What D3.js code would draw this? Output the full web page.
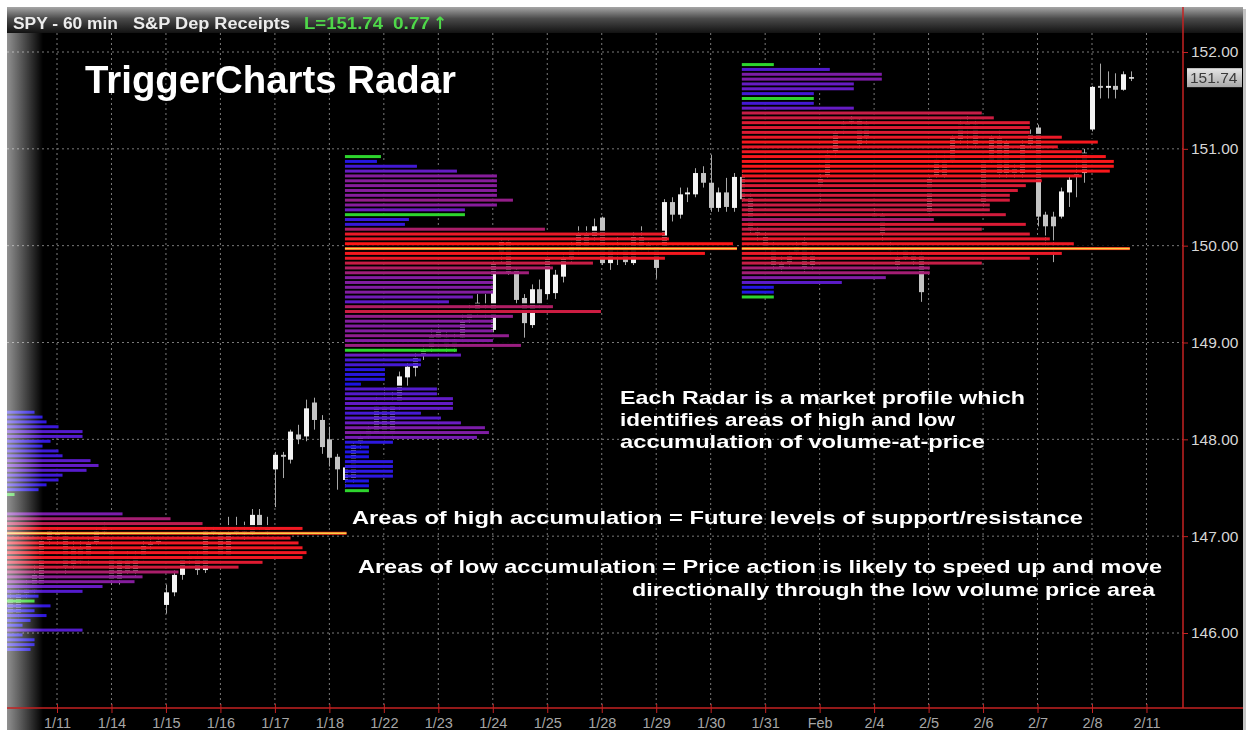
<!DOCTYPE html>
<html>
<head>
<meta charset="utf-8">
<script src="https://cdn.jsdelivr.net/npm/d3@7"></script>
<style>
  body { margin: 0; background: #fff; }
  svg { display: block; }
  .axis text { font-family: "Liberation Sans", Arial, sans-serif; }
</style>
</head>
<body>
<svg id="chart" width="1253" height="730"></svg>
<script>
// ---- data ----
// trading days shown on the time axis (first bar of each day gets a tick)
var dayLabels = ["1/11", "1/14", "1/15", "1/16", "1/17", "1/18", "1/22", "1/23", "1/24", "1/25",
  "1/28", "1/29", "1/30", "1/31", "Feb", "2/4", "2/5", "2/6", "2/7", "2/8", "2/11"];
var barsPerDay = 7;

// 60 min bars [open, high, low, close], 7 per day, starting with 1/10
var ohlc = [
  // 1/10
  [146.30, 146.40, 146.15, 146.35], [146.35, 146.45, 146.10, 146.20], [146.20, 146.50, 146.15, 146.40],
  [146.40, 146.55, 146.35, 146.45], [146.45, 146.70, 146.40, 146.60], [146.50, 147.00, 146.45, 146.95],
  [146.95, 147.10, 146.90, 147.05],
  // 1/11
  [147.00, 147.10, 146.90, 147.03], [147.00, 147.05, 146.60, 146.68], [146.70, 146.95, 146.65, 146.88],
  [146.88, 146.95, 146.70, 146.75], [146.78, 146.98, 146.70, 146.94], [146.94, 147.10, 146.90, 147.05],
  [147.05, 147.15, 147.00, 147.10],
  // 1/14
  [146.86, 146.95, 146.50, 146.55], [146.55, 146.80, 146.50, 146.75], [146.75, 146.85, 146.60, 146.62],
  [146.62, 146.85, 146.58, 146.80], [146.80, 146.95, 146.75, 146.90], [146.90, 147.00, 146.85, 146.93],
  [146.93, 146.98, 146.90, 146.95],
  // 1/15
  [146.29, 146.50, 146.20, 146.42], [146.42, 146.65, 146.38, 146.60], [146.60, 146.80, 146.55, 146.76],
  [146.76, 146.85, 146.70, 146.80], [146.80, 146.85, 146.60, 146.65], [146.65, 147.10, 146.62, 147.05],
  [147.05, 147.10, 147.00, 147.03],
  // 1/16
  [147.03, 147.05, 146.75, 146.80], [146.80, 147.20, 146.78, 147.03], [147.03, 147.20, 147.00, 147.05],
  [147.05, 147.15, 146.95, 147.02], [147.02, 147.28, 147.00, 147.22], [147.22, 147.28, 147.05, 147.08],
  [147.08, 147.20, 147.00, 147.05],
  // 1/17
  [147.69, 147.87, 147.30, 147.84], [147.84, 147.87, 147.60, 147.82], [147.79, 148.10, 147.75, 148.08],
  [148.05, 148.15, 147.95, 148.00], [148.03, 148.41, 147.98, 148.32], [148.38, 148.43, 148.10, 148.20],
  [148.20, 148.25, 147.85, 147.92],
  // 1/18
  [148.00, 148.13, 147.72, 147.81], [147.82, 147.85, 147.48, 147.69], [147.58, 147.75, 147.50, 147.71],
  [147.60, 147.97, 147.55, 147.94], [147.96, 148.08, 147.90, 148.03], [148.04, 148.15, 148.00, 148.10],
  [148.07, 148.45, 148.05, 148.34],
  // 1/22
  [148.34, 148.55, 147.98, 148.05], [148.05, 148.50, 148.00, 148.38], [148.38, 148.70, 148.30, 148.65],
  [148.64, 148.80, 148.55, 148.75], [148.74, 148.90, 148.65, 148.85], [148.88, 148.98, 148.82, 148.93],
  [148.95, 149.15, 148.90, 149.06],
  // 1/23
  [149.05, 149.20, 148.95, 149.13], [149.05, 149.12, 148.90, 148.96], [148.96, 149.10, 148.90, 149.03],
  [149.05, 149.30, 149.00, 149.22], [149.24, 149.40, 149.20, 149.32], [149.32, 149.50, 149.28, 149.41],
  [149.38, 149.50, 149.25, 149.36],
  // 1/24
  [149.13, 149.85, 149.10, 149.83], [149.93, 150.08, 149.83, 150.04], [150.04, 150.06, 149.70, 149.73],
  [149.75, 149.78, 149.40, 149.44], [149.46, 149.50, 149.05, 149.20], [149.18, 149.60, 149.15, 149.55],
  [149.55, 149.65, 149.35, 149.40],
  // 1/25
  [149.50, 149.95, 149.45, 149.88], [149.51, 149.75, 149.45, 149.70], [149.68, 149.92, 149.62, 149.88],
  [149.86, 150.05, 149.82, 149.99], [149.96, 150.20, 149.90, 150.13], [150.13, 150.20, 149.95, 149.98],
  [150.09, 150.28, 150.05, 150.20],
  // 1/28
  [150.29, 150.30, 149.80, 149.82], [149.82, 150.00, 149.75, 149.99], [149.99, 150.10, 149.80, 149.97],
  [149.97, 150.02, 149.80, 149.83], [149.82, 150.15, 149.80, 150.10], [150.10, 150.20, 149.95, 149.98],
  [149.98, 150.05, 149.92, 150.02],
  // 1/29
  [149.99, 150.02, 149.66, 149.77], [149.99, 150.48, 149.97, 150.45], [150.45, 150.50, 150.25, 150.32],
  [150.32, 150.60, 150.28, 150.53], [150.53, 150.60, 150.45, 150.55], [150.53, 150.80, 150.50, 150.75],
  [150.75, 150.82, 150.60, 150.65],
  // 1/30
  [150.65, 150.94, 150.35, 150.39], [150.39, 150.60, 150.35, 150.55], [150.55, 150.70, 150.35, 150.40],
  [150.39, 150.75, 150.35, 150.71], [150.71, 150.78, 150.45, 150.48], [150.50, 150.55, 150.12, 150.16],
  [150.14, 150.20, 150.05, 150.11],
  // 1/31
  [150.10, 150.15, 149.92, 149.96], [149.98, 150.05, 149.75, 149.80], [149.82, 149.90, 149.72, 149.78],
  [149.83, 149.95, 149.78, 149.90], [149.94, 150.05, 149.90, 149.99], [150.04, 150.10, 149.72, 149.78],
  [149.80, 149.95, 149.75, 149.90],
  // Feb 1
  [150.63, 150.75, 150.45, 150.70], [150.73, 151.00, 150.70, 150.94], [150.96, 151.20, 150.90, 151.17],
  [151.20, 151.30, 151.15, 151.25], [151.28, 151.35, 151.20, 151.30], [151.30, 151.32, 151.00, 151.04],
  [151.11, 151.30, 151.05, 151.25],
  // 2/4
  [150.33, 150.40, 150.25, 150.30], [150.32, 150.35, 150.05, 150.11], [149.98, 150.05, 149.90, 149.95],
  [149.88, 149.95, 149.75, 149.80], [149.95, 150.00, 149.85, 149.88], [149.90, 149.95, 149.80, 149.84],
  [149.90, 149.95, 149.42, 149.52],
  // 2/5
  [150.35, 150.72, 150.30, 150.70], [150.73, 150.95, 150.70, 150.89], [150.89, 150.95, 150.70, 150.73],
  [150.87, 151.15, 150.85, 151.11], [151.10, 151.30, 151.05, 151.25], [151.27, 151.35, 151.00, 151.23],
  [151.25, 151.30, 151.00, 151.04],
  // 2/6
  [150.87, 150.90, 150.40, 150.45], [150.87, 151.15, 150.85, 151.11], [151.11, 151.20, 150.70, 150.75],
  [150.75, 151.10, 150.70, 151.07], [150.80, 150.85, 150.70, 150.75], [150.75, 151.10, 150.70, 151.04],
  [151.04, 151.20, 151.00, 151.15],
  // 2/7
  [151.22, 151.25, 150.20, 150.30], [150.32, 150.35, 149.98, 150.20], [150.30, 150.35, 149.83, 150.20],
  [150.30, 150.60, 150.28, 150.56], [150.55, 150.72, 150.40, 150.68], [150.75, 150.90, 150.50, 150.73],
  [150.75, 151.00, 150.65, 150.96],
  // 2/8
  [151.20, 151.65, 151.18, 151.64], [151.65, 151.88, 151.52, 151.63], [151.63, 151.80, 151.52, 151.65],
  [151.65, 151.78, 151.52, 151.61], [151.61, 151.80, 151.60, 151.77], [151.74, 151.80, 151.70, 151.74]
];

var priceTicks = [146, 147, 148, 149, 150, 151, 152];
var lastPrice = 151.74;
var netChange = 0.77;

// volume-at-price profiles ("Radar"), rows every 5 cents from the low upward
var rowStep = 0.05;
var radarStartBars = [0, 44, 95];
var radarLows = [145.83, 147.47, 149.47];
var radar1Volumes = [7, 8, 8, 5, 20, 5, 7, 11, 8, 12, 8, 9, 20, 25, 33, 35, 44, 59, 65, 75, 76, 75, 74, 72, 86,
  75, 50, 42, 30, 0, 0, 0, 3, 9, 11, 14, 15, 21, 24, 22, 15, 14, 10, 12, 20, 20, 14, 11, 10, 8];
var radar2Volumes = [6, 6, 6, 12, 12, 12, 12, 6, 6, 6, 12, 33, 36, 35, 29, 24, 19, 27, 27, 27, 23, 23, 4, 10, 10,
  10, 19, 19, 29, 28, 44, 37, 41, 37, 37, 37, 42, 64, 52, 26, 32, 37, 37, 37, 37, 46, 52, 62, 80, 90, 98, 97, 81, 80,
  50, 15, 16, 30, 30, 38, 42, 38, 38, 38, 38, 38, 28, 18, 8, 9];
var radar3Volumes = [8, 8, 8, 25, 36, 47, 47, 60, 72, 80, 97, 83, 77, 72, 60, 71, 48, 66, 62, 62, 67, 67, 69, 71,
  75, 85, 92, 93, 93, 91, 85, 79, 89, 80, 72, 72, 72, 63, 60, 28, 18, 18, 18, 28, 28, 35, 35, 22, 8];
// rows marked in green on each radar
var radarGreenPrices = [[146.33, 147.43], [147.47, 148.92, 150.32, 150.92], [149.47, 151.52, 151.87]];

var noteLines = [
  "Each Radar is a market profile which",
  "identifies areas of high and low",
  "accumulation of volume-at-price"
];
var highNote = "Areas of high accumulation = Future levels of support/resistance";
var lowNote = ["Areas of low accumulation = Price action is likely to speed up and move",
  "directionally through the low volume price area"];

// ---- layout ----
var svg = d3.select("#chart");
var panel = { left: 7, right: 1243, top: 7, bottom: 730 };
var plot = { left: 7, right: 1183, top: 33, bottom: 708 };

var x = d3.scaleLinear().domain([barsPerDay, barsPerDay * 20]).range([57, 1092]);
var y = d3.scaleLinear().domain([146, 152]).range([633, 52]);
var vol = d3.scaleLinear().domain([0, 100]).range([0, 400]);
var heat = d3.scaleLinear()
  .domain([0, 0.12, 0.3, 0.45, 0.6, 0.8, 1])
  .range(["#1212e6", "#2c18de", "#6a1cc2", "#9a1e80", "#c21e4a", "#e81a2a", "#ff1616"]);

var defs = svg.append("defs");
defs.append("clipPath").attr("id", "plotClip").append("rect")
  .attr("x", plot.left).attr("y", plot.top)
  .attr("width", plot.right - plot.left).attr("height", plot.bottom - plot.top);

var hdr = defs.append("linearGradient").attr("id", "hdrGrad").attr("x1", 0).attr("y1", 0).attr("x2", 0).attr("y2", 1);
hdr.append("stop").attr("offset", "0%").attr("stop-color", "#a6a6a6");
hdr.append("stop").attr("offset", "45%").attr("stop-color", "#4a4a4a");
hdr.append("stop").attr("offset", "100%").attr("stop-color", "#121212");

var side = defs.append("linearGradient").attr("id", "sideGrad").attr("x1", 0).attr("y1", 0).attr("x2", 1).attr("y2", 0);
side.append("stop").attr("offset", "0%").attr("stop-color", "#909090");
side.append("stop").attr("offset", "35%").attr("stop-color", "#5e5e5e");
side.append("stop").attr("offset", "100%").attr("stop-color", "#000");

var tag = defs.append("linearGradient").attr("id", "tagGrad").attr("x1", 0).attr("y1", 0).attr("x2", 0).attr("y2", 1);
tag.append("stop").attr("offset", "0%").attr("stop-color", "#e6e6e6");
tag.append("stop").attr("offset", "100%").attr("stop-color", "#a8a8a8");

// panel with a soft shadow on the right
svg.append("rect").attr("x", panel.left + 3).attr("y", panel.top + 2)
  .attr("width", panel.right - panel.left).attr("height", panel.bottom - panel.top)
  .attr("fill", "#c4c4c4");
svg.append("rect").attr("x", panel.left).attr("y", panel.top)
  .attr("width", panel.right - panel.left).attr("height", panel.bottom - panel.top)
  .attr("fill", "#000");

// grid
var grid = svg.append("g").attr("clip-path", "url(#plotClip)");
var dayTicks = dayLabels.map(function (d, i) { return barsPerDay * (i + 1); });
grid.selectAll(".vgrid").data(dayTicks).enter().append("line")
  .attr("x1", function (d) { return x(d); }).attr("x2", function (d) { return x(d); })
  .attr("y1", plot.top).attr("y2", plot.bottom)
  .attr("stroke", "#7a7a7a").attr("stroke-dasharray", "2,3");
grid.selectAll(".hgrid").data(priceTicks).enter().append("line")
  .attr("x1", plot.left).attr("x2", plot.right)
  .attr("y1", function (d) { return y(d); }).attr("y2", function (d) { return y(d); })
  .attr("stroke", "#7a7a7a").attr("stroke-dasharray", "2,3");

// candles
var bars = ohlc.map(function (d, i) { return { i: i, o: d[0], h: d[1], l: d[2], c: d[3] }; });
var candles = svg.append("g").attr("clip-path", "url(#plotClip)");
candles.selectAll(".wick").data(bars).enter().append("line")
  .attr("x1", function (d) { return Math.round(x(d.i)) + 0.5; })
  .attr("x2", function (d) { return Math.round(x(d.i)) + 0.5; })
  .attr("y1", function (d) { return y(d.h); }).attr("y2", function (d) { return y(d.l); })
  .attr("stroke", "#a8a8a8").attr("stroke-width", 1);
candles.selectAll(".body").data(bars).enter().append("rect")
  .attr("x", function (d) { return Math.round(x(d.i)) - 2; })
  .attr("width", 5)
  .attr("y", function (d) { return y(Math.max(d.o, d.c)); })
  .attr("height", function (d) { return Math.max(1.5, Math.abs(y(d.o) - y(d.c))); })
  .attr("fill", function (d) { return d.c >= d.o ? "#f4f4f4" : "#c4c4c4"; });

// radars
var radars = [radar1Volumes, radar2Volumes, radar3Volumes].map(function (v, k) {
  var maxV = d3.max(v);
  var greens = radarGreenPrices[k].map(function (g) { return Math.round((g - radarLows[k]) / rowStep); });
  return {
    x0: x(radarStartBars[k]),
    poc: v.indexOf(maxV),
    rows: v.map(function (val, i) {
      return { price: radarLows[k] + i * rowStep, v: val, rel: val / maxV, green: greens.indexOf(i) >= 0 };
    })
  };
});
var rowH = 3;
var radarG = svg.append("g").attr("clip-path", "url(#plotClip)");
radars.forEach(function (r) {
  var g = radarG.append("g");
  // black gaps between rows (gives the striped look on candles)
  g.selectAll(".gap").data(r.rows).enter().append("rect")
    .attr("x", r.x0)
    .attr("y", function (d) { return y(d.price + rowStep) + rowH / 2; })
    .attr("width", function (d) { return vol(d.v); })
    .attr("height", function (d) { return y(d.price) - y(d.price + rowStep) - rowH; })
    .attr("fill", "#000");
  g.selectAll(".row").data(r.rows).enter().append("rect")
    .attr("x", r.x0)
    .attr("y", function (d) { return y(d.price) - rowH / 2; })
    .attr("width", function (d) { return vol(d.v); })
    .attr("height", rowH)
    .attr("fill", function (d) { return d.green ? "#2ed52e" : heat(d.rel); })
    .style("mix-blend-mode", "screen");
  var p = r.rows[r.poc];
  g.append("rect")
    .attr("x", r.x0).attr("y", y(p.price) - 0.9)
    .attr("width", vol(p.v)).attr("height", 1.8)
    .attr("fill", "#f2e64a").attr("opacity", 0.9);
});

// grey bevel on the left edge of the panel
svg.append("rect").attr("x", panel.left).attr("y", plot.top)
  .attr("width", 36).attr("height", panel.bottom - plot.top)
  .attr("fill", "url(#sideGrad)").style("mix-blend-mode", "screen");

// price axis
var axisRed = "#c42222";
var yAxis = d3.axisRight(y).tickValues(priceTicks).tickFormat(d3.format(".2f")).tickSize(5).tickPadding(3);
var yg = svg.append("g").attr("class", "axis").attr("transform", "translate(" + plot.right + ",0)").call(yAxis);
yg.select(".domain").remove();
yg.selectAll(".tick line").attr("stroke", axisRed);
yg.selectAll(".tick text").attr("fill", "#d6d6d6").style("font-size", "15.5px");

// time axis
var xAxis = d3.axisBottom(x).tickValues(dayTicks)
  .tickFormat(function (d) { return dayLabels[d / barsPerDay - 1]; }).tickSize(5).tickPadding(5);
var xg = svg.append("g").attr("class", "axis").attr("transform", "translate(0," + plot.bottom + ")").call(xAxis);
xg.select(".domain").remove();
xg.selectAll(".tick line").attr("stroke", axisRed).attr("y1", -4);
xg.selectAll(".tick text").attr("fill", "#a6a6a6").style("font-size", "14.5px");

// header bar (full width, over the axis column too)
svg.append("rect").attr("x", panel.left).attr("y", panel.top)
  .attr("width", panel.right - panel.left).attr("height", plot.top - panel.top)
  .attr("fill", "url(#hdrGrad)");

svg.append("line").attr("x1", plot.right).attr("x2", plot.right)
  .attr("y1", panel.top).attr("y2", plot.bottom)
  .attr("stroke", axisRed).attr("stroke-width", 1.5);
svg.append("line").attr("x1", panel.left).attr("x2", panel.right)
  .attr("y1", plot.bottom).attr("y2", plot.bottom)
  .attr("stroke", axisRed).attr("stroke-width", 1.5);

// last price tag
svg.append("rect").attr("x", plot.right + 4).attr("y", y(lastPrice) - 9)
  .attr("width", 55).attr("height", 19).attr("fill", "url(#tagGrad)");
svg.append("text").attr("x", plot.right + 7).attr("y", y(lastPrice) + 5.5)
  .attr("fill", "#3a3a3a").style("font", "15.5px 'Liberation Sans', Arial, sans-serif")
  .text(d3.format(".2f")(lastPrice));

var hfont = "bold 16px 'Liberation Sans', Arial, sans-serif";
svg.append("text").attr("x", 13).attr("y", 29).attr("fill", "#ececec").style("font", hfont)
  .attr("textLength", 105).attr("lengthAdjust", "spacingAndGlyphs").text("SPY - 60 min");
svg.append("text").attr("x", 133).attr("y", 29).attr("fill", "#ececec").style("font", hfont)
  .attr("textLength", 157).attr("lengthAdjust", "spacingAndGlyphs").text("S&P Dep Receipts");
svg.append("text").attr("x", 304).attr("y", 29).attr("fill", "#4fd84a").style("font", hfont)
  .attr("textLength", 79).attr("lengthAdjust", "spacingAndGlyphs").text("L=" + d3.format(".2f")(lastPrice));
svg.append("text").attr("x", 393).attr("y", 29).attr("fill", "#4fd84a").style("font", hfont)
  .attr("textLength", 37).attr("lengthAdjust", "spacingAndGlyphs").text(d3.format(".2f")(netChange));
svg.append("text").attr("x", 433).attr("y", 29).attr("fill", "#4fd84a")
  .style("font", "bold 17px 'DejaVu Sans', sans-serif").text("\u2191");

// title and notes
svg.append("text").attr("x", 85).attr("y", 93).attr("fill", "#fff")
  .style("font", "bold 38px 'Liberation Sans', Arial, sans-serif")
  .attr("textLength", 371).attr("lengthAdjust", "spacingAndGlyphs").text("TriggerCharts Radar");

var nfont = "bold 18.5px 'Liberation Sans', Arial, sans-serif";
var noteWidths = [405, 335, 365];
svg.selectAll(".note").data(noteLines).enter().append("text")
  .attr("x", 620).attr("y", function (d, i) { return 404 + i * 22; })
  .attr("fill", "#fff").style("font", nfont)
  .attr("textLength", function (d, i) { return noteWidths[i]; }).attr("lengthAdjust", "spacingAndGlyphs")
  .text(function (d) { return d; });
svg.append("text").attr("x", 352).attr("y", 524).attr("fill", "#fff").style("font", nfont)
  .attr("textLength", 731).attr("lengthAdjust", "spacingAndGlyphs").text(highNote);
svg.append("text").attr("x", 358).attr("y", 573).attr("fill", "#fff").style("font", nfont)
  .attr("textLength", 804).attr("lengthAdjust", "spacingAndGlyphs").text(lowNote[0]);
svg.append("text").attr("x", 632).attr("y", 596).attr("fill", "#fff").style("font", nfont)
  .attr("textLength", 523).attr("lengthAdjust", "spacingAndGlyphs").text(lowNote[1]);
</script>
</body>
</html>
